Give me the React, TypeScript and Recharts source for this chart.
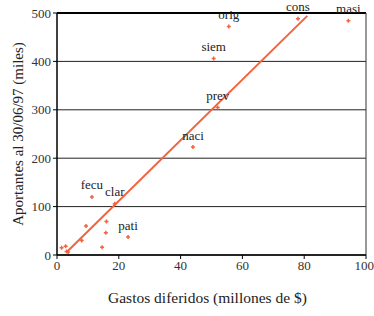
import { ScatterChart, Scatter, XAxis, YAxis, CartesianGrid, ReferenceLine, LabelList, Label } from 'recharts';

// gastos diferidos (millones de $) vs aportantes (miles)
const labeled = [
  { name: 'orig', x: 55.6, y: 472 },
  { name: 'cons', x: 78, y: 488 },
  { name: 'masi', x: 94.3, y: 484 },
  { name: 'siem', x: 50.7, y: 406 },
  { name: 'prev', x: 52, y: 305 },
  { name: 'naci', x: 44, y: 223 },
  { name: 'fecu', x: 11.3, y: 120 },
  { name: 'clar', x: 18.7, y: 106 },
  { name: 'pati', x: 23, y: 37 },
];

const unlabeled = [
  { x: 9.4, y: 60 },
  { x: 16, y: 69 },
  { x: 15.8, y: 46 },
  { x: 8, y: 30 },
  { x: 14.6, y: 16 },
  { x: 1.5, y: 15 },
  { x: 2.8, y: 18 },
  { x: 3.1, y: 7 },
  { x: 3.6, y: 6 },
];

const fitLine = [
  { x: 3, y: 5 },
  { x: 81, y: 494 },
];

const xTicks = [0, 20, 40, 60, 80, 100];
const yTicks = [0, 100, 200, 300, 400, 500];

const ORANGE = '#f2643f';
const serif = "'Liberation Serif', 'Times New Roman', serif";

const Marker = (props: any) => {
  const { cx, cy } = props;
  return (
    <path
      d={`M${cx - 2},${cy} L${cx + 2},${cy} M${cx},${cy - 2} L${cx},${cy + 2}`}
      stroke={ORANGE}
      strokeWidth={1.5}
    />
  );
};

export default function App() {
  return (
    <div style={{ position: 'absolute', left: 0, top: 0, background: '#fff' }}>
      <ScatterChart width={374} height={316} margin={{ top: 13, right: 8, left: 0, bottom: 0 }}>
        <CartesianGrid horizontal vertical={false} stroke="#222" strokeDasharray="" />
        <XAxis
          type="number"
          dataKey="x"
          domain={[0, 100]}
          ticks={xTicks}
          height={61}
          tickSize={4}
          axisLine={{ stroke: '#000', strokeWidth: 1.5 }}
          tickLine={{ stroke: '#000' }}
          tick={{ fontFamily: serif, fontSize: 13, fill: '#333' }}
        >
          <Label
            value="Gastos diferidos (millones de $)"
            position="center"
            dx={-4}
            dy={12}
            style={{ fontFamily: serif, fontSize: 15.5, fill: '#222' }}
          />
        </XAxis>
        <YAxis
          type="number"
          dataKey="y"
          domain={[0, 500]}
          ticks={yTicks}
          width={57}
          tickSize={4}
          axisLine={{ stroke: '#000', strokeWidth: 1.5 }}
          tickLine={{ stroke: '#000' }}
          tick={{ fontFamily: serif, fontSize: 13, fill: '#333' }}
        >
          <Label
            value="Aportantes al 30/06/97 (miles)"
            angle={-90}
            position="center"
            dx={-11}
            style={{ fontFamily: serif, fontSize: 15, fill: '#222', textAnchor: 'middle' }}
          />
        </YAxis>
        <ReferenceLine y={500} stroke="#000" strokeWidth={2} />
        <ReferenceLine x={100} stroke="#333" strokeWidth={1} />
        <Scatter
          data={fitLine}
          line={{ stroke: ORANGE, strokeWidth: 2 }}
          shape={() => null}
          isAnimationActive={false}
        />
        <Scatter data={unlabeled} shape={Marker} isAnimationActive={false} />
        <Scatter data={labeled} shape={Marker} isAnimationActive={false}>
          <LabelList
            dataKey="name"
            position="top"
            offset={3}
            style={{ fontFamily: serif, fontSize: 13, fill: '#222' }}
          />
        </Scatter>
      </ScatterChart>
    </div>
  );
}
